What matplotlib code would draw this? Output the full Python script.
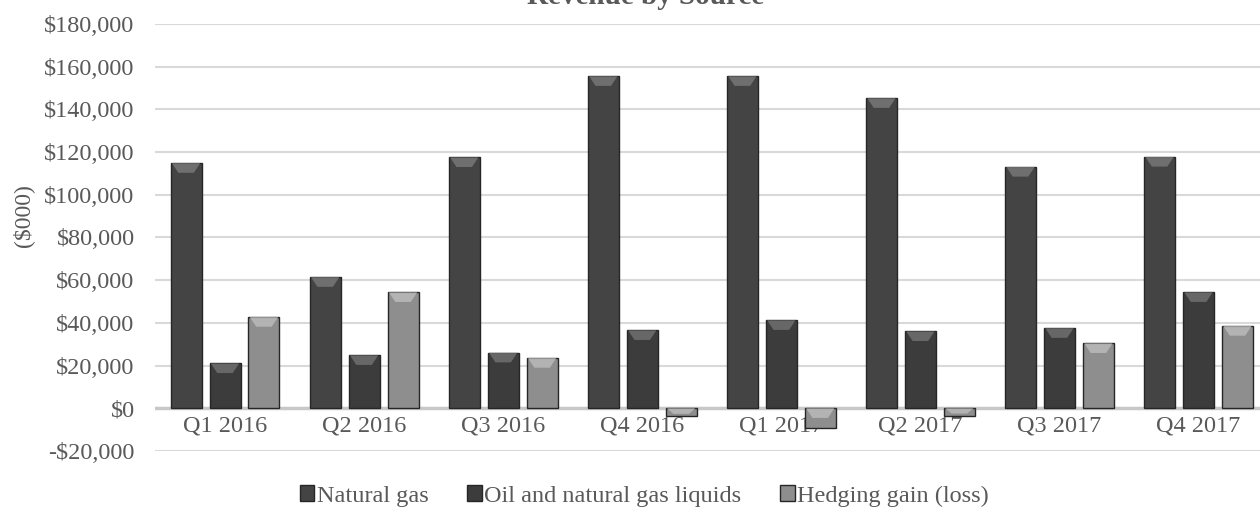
import matplotlib.pyplot as plt
import numpy as np
from matplotlib.patches import Patch, Polygon

# data ($000)
quarters = ['Q1 2016', 'Q2 2016', 'Q3 2016', 'Q4 2016',
            'Q1 2017', 'Q2 2017', 'Q3 2017', 'Q4 2017']
natural_gas = [114800, 61400, 117500, 155500, 155500, 145200, 113000, 117700]
oil_ngl = [21000, 24800, 26000, 36500, 41200, 36000, 37500, 54300]
hedging = [42700, 54300, 23500, -3700, -9400, -3500, 30400, 38500]

series = ['Natural gas', 'Oil and natural gas liquids', 'Hedging gain (loss)']
colors = ['#444444', '#3c3c3c', '#8e8e8e']
bevels = ['#7a7a7a', '#727272', '#bdbdbd']

plt.rcParams['font.family'] = ['Liberation Serif', 'DejaVu Serif']
txt = '#595959'

fig = plt.figure(figsize=(12.6, 5.13), dpi=100)
ax = fig.add_axes([0.1234, 0.1209, 0.883, 0.8324])

x = np.arange(len(quarters))
w = 0.223
step = 0.28
for i, (vals, c) in enumerate(zip([natural_gas, oil_ngl, hedging], colors)):
    bars = ax.bar(x + (i - 1) * step, vals, width=w, color=c, edgecolor='#262626',
                  linewidth=1.0, zorder=3, label=series[i])
    # light chevron on the top edge of every bar, as in the bevelled original
    for r in bars:
        x0, y0 = r.get_x(), r.get_y()
        top = y0 + r.get_height() if r.get_height() > 0 else y0
        d = min(4500, abs(r.get_height()) * 0.7)
        ax.add_patch(Polygon([(x0 + 0.01, top), (x0 + w - 0.01, top),
                              (x0 + w * 0.75, top - d), (x0 + w * 0.25, top - d)],
                             closed=True, facecolor=bevels[i], edgecolor='none',
                             alpha=0.8, zorder=4))

ax.set_xlim(-0.5, len(quarters) - 0.5)
ax.set_ylim(-20000, 180000)
ax.set_yticks(range(-20000, 180001, 20000))
ax.set_yticklabels([('-$' if v < 0 else '$') + f'{abs(v):,}' for v in range(-20000, 180001, 20000)])
ax.grid(axis='y', color='#d9d9d9', linewidth=1.5, zorder=0)
ax.axhline(0, color='#c8c8c8', linewidth=2.5, zorder=2)

for s in ['left', 'right', 'top']:
    ax.spines[s].set_visible(False)
ax.spines['bottom'].set_position(('data', 0))
ax.spines['bottom'].set_visible(False)
ax.set_xticks(x)
ax.set_xticklabels(quarters)
ax.tick_params(axis='both', length=0, labelsize=17.5, colors=txt)
ax.tick_params(axis='x', pad=5)
ax.tick_params(axis='y', pad=15)

fig.text(0.018, 0.58, '($000)', rotation=90, fontsize=17, color=txt,
         ha='center', va='center')
# title sits mostly above the top edge, as in the cropped original
fig.text(0.512, 0.993, 'Revenue by Source', fontsize=21, color=txt,
         fontweight='bold', ha='center', va='baseline')

handles = [Patch(facecolor=c, edgecolor='#262626') for c in colors]
fig.legend(handles, series, loc='lower center', bbox_to_anchor=(0.5115, -0.03),
           ncol=3, frameon=False, fontsize=17.5, labelcolor=txt,
           handlelength=0.6, handleheight=0.6, handletextpad=0.1,
           columnspacing=1.6)

fig.savefig('out.png', dpi=100)
